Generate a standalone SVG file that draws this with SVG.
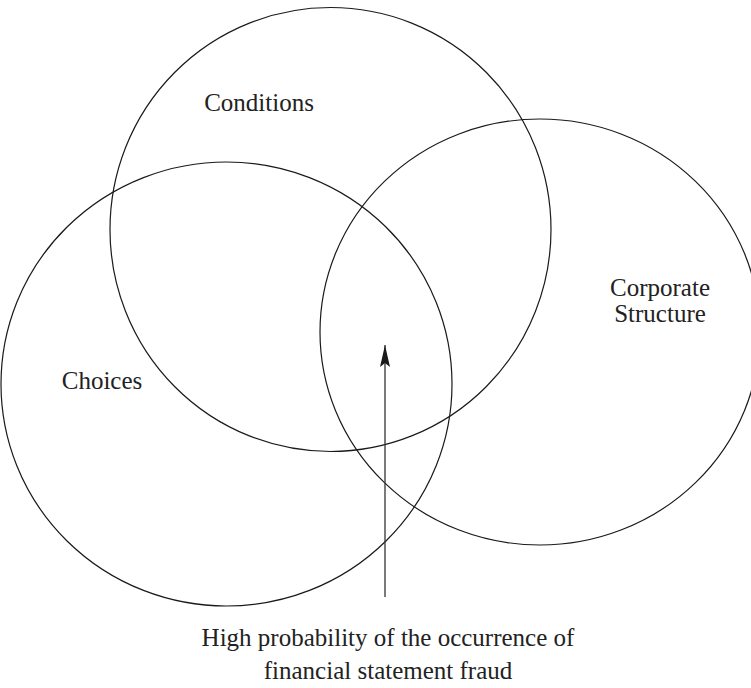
<svg xmlns="http://www.w3.org/2000/svg" width="751" height="688" viewBox="0 0 751 688">
  <style>
    .ring { fill: none; stroke: #1a1a1a; stroke-width: 1.2; }
    .label { font-family: "Liberation Serif", "Times New Roman", "DejaVu Serif", serif; font-size: 25px; fill: #222; }
    .conn { stroke: #333; stroke-width: 1.3; fill: none; }
  </style>
  <defs>
    <!-- arrowhead drawn along +x, tip at the line end -->
    <marker id="arrowHead" viewBox="0 0 22 10" refX="22" refY="5" markerWidth="22" markerHeight="10" markerUnits="userSpaceOnUse" orient="auto">
      <path d="M22,5 L0,0 L4,5 L0,10 Z" fill="#1a1a1a"/>
    </marker>
  </defs>
  <rect width="751" height="688" fill="#ffffff"/>

  <g id="conditions">
    <ellipse class="ring" cx="330.5" cy="229.5" rx="220.5" ry="222"/>
    <text class="label" x="259" y="111" text-anchor="middle">Conditions</text>
  </g>

  <g id="choices">
    <ellipse class="ring" cx="226.5" cy="384" rx="225.5" ry="222"/>
    <text class="label" x="102" y="389" text-anchor="middle">Choices</text>
  </g>

  <g id="corporate-structure">
    <ellipse class="ring" cx="540" cy="332" rx="220" ry="213"/>
    <text class="label" x="660" y="296" text-anchor="middle">Corporate</text>
    <text class="label" x="660" y="322" text-anchor="middle">Structure</text>
  </g>

  <g id="connectors">
    <line class="conn" x1="385" y1="597" x2="385" y2="345" marker-end="url(#arrowHead)"/>
  </g>

  <g id="outcome">
    <text class="label" x="388" y="646" text-anchor="middle">High probability of the occurrence of</text>
    <text class="label" x="388" y="679" text-anchor="middle">financial statement fraud</text>
  </g>
</svg>
